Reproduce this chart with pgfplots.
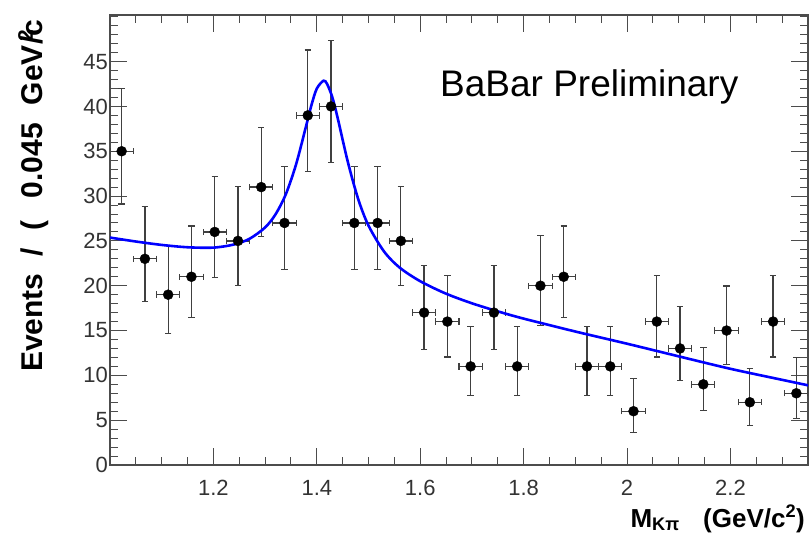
\documentclass[border=0pt]{standalone}
\usepackage{pgfplots}
\usepackage{pgfplotstable}
\pgfplotsset{compat=1.18}
\usepackage{fontspec}
\setmainfont{Liberation Sans}
\pgfplotstableread{
x y eyp eym
1.0225 35 6.98 5.88
1.0675 23 5.87 4.76
1.1125 19 5.44 4.32
1.1575 21 5.66 4.54
1.2025 26 6.17 5.06
1.2475 25 6.07 4.96
1.2925 31 6.63 5.53
1.3375 27 6.27 5.16
1.3825 39 7.30 6.22
1.4275 40 7.38 6.30
1.4725 27 6.27 5.16
1.5175 27 6.27 5.16
1.5625 25 6.07 4.96
1.6075 17 5.21 4.08
1.6525 16 5.09 3.95
1.6975 11 4.43 3.26
1.7425 17 5.21 4.08
1.7875 11 4.43 3.26
1.8325 20 5.56 4.43
1.8775 21 5.66 4.54
1.9225 11 4.43 3.26
1.9675 11 4.43 3.26
2.0125 6 3.60 2.37
2.0575 16 5.09 3.95
2.1025 13 4.71 3.55
2.1475 9 4.12 2.94
2.1925 15 4.97 3.83
2.2375 7 3.78 2.58
2.2825 16 5.09 3.95
2.3275 8 3.96 2.77
}\datatable
\begin{document}
\begin{tikzpicture}[x=1pt,y=1pt]
\useasboundingbox (0,0) rectangle (810,543);
\begin{axis}[
  at={(110pt,78pt)}, anchor=south west,
  width=698pt, height=450pt, scale only axis,
  xmin=1.0, xmax=2.35, ymin=0, ymax=50.2,
  axis line style={black!70, line width=1.2pt},
  tick style={black!70, line width=1pt},
  minor tick style={black!70, line width=1pt},
  tick align=inside,
  major tick length=17pt, minor tick length=8pt,
  xtick={1.2,1.4,1.6,1.8,2.0,2.2},
  xticklabels={1.2,1.4,1.6,1.8,2,2.2},
  minor xtick={1.05,1.1,1.15,1.25,1.3,1.35,1.45,1.5,1.55,1.65,1.7,1.75,1.85,1.9,1.95,2.05,2.1,2.15,2.25,2.3},
  ytick={0,5,10,15,20,25,30,35,40,45},
  yticklabels={0,5,10,15,20,25,30,35,40,45},
  minor ytick={1,2,3,4,6,7,8,9,11,12,13,14,16,17,18,19,21,22,23,24,26,27,28,29,31,32,33,34,36,37,38,39,41,42,43,44,46,47,48,49,50},
  xticklabel style={font=\fontsize{22}{24}\selectfont, text=black!80, inner sep=0pt},
  yticklabel style={font=\fontsize{22}{24}\selectfont, text=black!80, inner sep=0pt},
  xticklabel shift=15pt,
  yticklabel shift=2pt,
  clip=true,
]
\addplot[only marks, mark=*, mark size=5pt, black,
  error bars/.cd,
    x dir=both, x fixed=0.0225,
    y dir=both, y explicit,
    error bar style={line width=1.3pt, black!75},
    error mark=|,
    error mark options={line width=1.1pt, mark size=3.2pt, black!75}]
  table[x=x, y=y, y error plus=eyp, y error minus=eym]{\datatable};
\addplot[blue, line width=2.6pt, smooth, tension=0.5] coordinates {
(1.00,25.37) (1.05,24.93) (1.10,24.55) (1.15,24.29) (1.20,24.25)
(1.24,24.60) (1.27,25.24) (1.30,26.50) (1.32,27.95) (1.34,30.20)
(1.36,33.56) (1.38,37.98) (1.39,40.23) (1.40,41.99) (1.413,42.87)
(1.42,42.49) (1.43,41.02) (1.44,38.79) (1.46,33.81) (1.48,29.67)
(1.50,26.70) (1.53,23.82) (1.56,22.03) (1.60,20.50) (1.65,19.11)
(1.70,18.04) (1.75,17.14) (1.80,16.33) (1.90,14.89) (2.00,13.53)
(2.10,12.12) (2.20,10.73) (2.30,9.50) (2.35,8.89)
};
\end{axis}
\node[anchor=base west, inner sep=0pt] at (440,446) {\fontsize{37}{40}\selectfont BaBar Preliminary};
\node[anchor=base east, inner sep=0pt] at (805,16) {\fontsize{26}{28}\selectfont\bfseries M\textsubscript{Kπ}\hspace{0.9em}(GeV/c\textsuperscript{2})};
\node[anchor=base west, inner sep=0pt, rotate=90] at (42,171) {\fontsize{30}{32}\selectfont\bfseries Events\hspace{0.55em}/\hspace{0.6em}(\hspace{0.75em}0.045\hspace{0.6em}GeV\rlap{\textsuperscript{\,2}}/c};
\end{tikzpicture}
\end{document}
